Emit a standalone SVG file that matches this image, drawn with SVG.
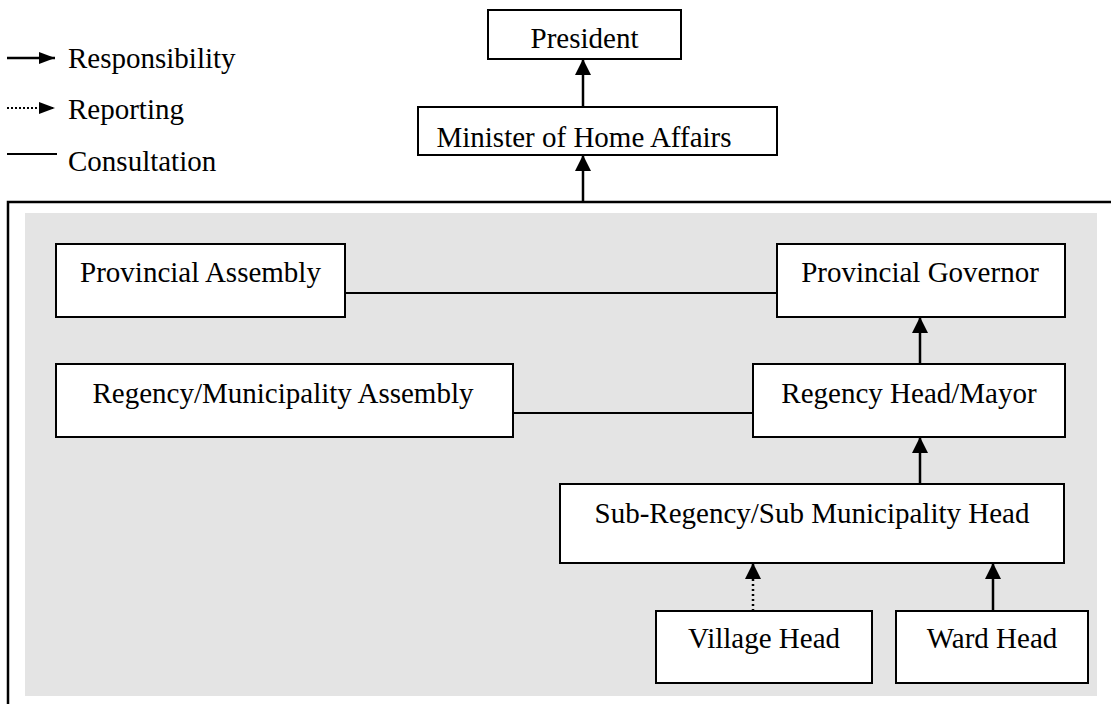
<svg xmlns="http://www.w3.org/2000/svg" width="1111" height="704" viewBox="0 0 1111 704">
<style>
  .box { fill: #ffffff; stroke: #000000; stroke-width: 2; }
  .lbl { font-family: "Liberation Serif", "Times New Roman", serif; font-size: 29px; fill: #000000; text-anchor: middle; }
  .leg { font-family: "Liberation Serif", "Times New Roman", serif; font-size: 29px; fill: #000000; }
  .resp { stroke: #000000; stroke-width: 2.5; fill: none; marker-end: url(#ah); }
  .rep { stroke: #000000; stroke-width: 2.5; fill: none; stroke-dasharray: 2 3; marker-end: url(#ah); }
  .cons { stroke: #000000; stroke-width: 2; fill: none; }
</style>
<defs>
  <marker id="ah" markerUnits="userSpaceOnUse" markerWidth="16" markerHeight="16" viewBox="0 0 16 16" refX="16" refY="8" orient="auto">
    <path d="M0,0 L16,8 L0,16 Z" fill="#000000"/>
  </marker>
  <marker id="ahs" markerUnits="userSpaceOnUse" markerWidth="16" markerHeight="12" viewBox="0 0 16 12" refX="16" refY="6" orient="auto">
    <path d="M0,0 L16,6 L0,12 Z" fill="#000000"/>
  </marker>
</defs>
<rect x="0" y="0" width="1111" height="704" fill="#ffffff"/>

<g id="legend">
  <line x1="7" y1="58" x2="55" y2="58" stroke="#000" stroke-width="2.5" marker-end="url(#ahs)"/>
  <text class="leg" x="68" y="68">Responsibility</text>
  <line x1="7" y1="108" x2="55" y2="108" stroke="#000" stroke-width="2" stroke-dasharray="2 2" marker-end="url(#ahs)"/>
  <text class="leg" x="68" y="119">Reporting</text>
  <line x1="7" y1="154" x2="57" y2="154" class="cons"/>
  <text class="leg" x="68" y="171">Consultation</text>
</g>

<g id="frame">
  <path d="M8,704 L8,202 L1111,202" fill="none" stroke="#000" stroke-width="2.5"/>
  <rect x="25" y="213" width="1072" height="483" fill="#e4e4e4"/>
</g>

<g id="connectors">
  <line class="resp" x1="583" y1="107" x2="583" y2="59"/>
  <line class="resp" x1="583" y1="202" x2="583" y2="155"/>
  <line class="cons" x1="345" y1="293" x2="777" y2="293"/>
  <line class="cons" x1="513" y1="413" x2="753" y2="413"/>
  <line class="resp" x1="920" y1="364" x2="920" y2="317"/>
  <line class="resp" x1="920" y1="484" x2="920" y2="437"/>
  <line class="rep" x1="753" y1="611" x2="753" y2="563"/>
  <line class="resp" x1="993" y1="611" x2="993" y2="563"/>
</g>

<g id="president">
  <rect class="box" x="488" y="10" width="193" height="49"/>
  <text class="lbl" x="584.5" y="48">President</text>
</g>
<g id="minister">
  <rect class="box" x="418" y="107" width="359" height="48"/>
  <text class="lbl" x="584" y="147">Minister of Home Affairs</text>
</g>
<g id="provincial-assembly">
  <rect class="box" x="56" y="244" width="289" height="73"/>
  <text class="lbl" x="200.5" y="282">Provincial Assembly</text>
</g>
<g id="provincial-governor">
  <rect class="box" x="777" y="244" width="288" height="73"/>
  <text class="lbl" x="920" y="282">Provincial Governor</text>
</g>
<g id="regency-assembly">
  <rect class="box" x="56" y="364" width="457" height="73"/>
  <text class="lbl" x="283" y="403">Regency/Municipality Assembly</text>
</g>
<g id="regency-head">
  <rect class="box" x="753" y="364" width="312" height="73"/>
  <text class="lbl" x="909" y="403">Regency Head/Mayor</text>
</g>
<g id="sub-regency">
  <rect class="box" x="560" y="484" width="504" height="79"/>
  <text class="lbl" x="812" y="523">Sub-Regency/Sub Municipality Head</text>
</g>
<g id="village-head">
  <rect class="box" x="656" y="611" width="216" height="72"/>
  <text class="lbl" x="764" y="648">Village Head</text>
</g>
<g id="ward-head">
  <rect class="box" x="896" y="611" width="192" height="72"/>
  <text class="lbl" x="992" y="648">Ward Head</text>
</g>
</svg>
